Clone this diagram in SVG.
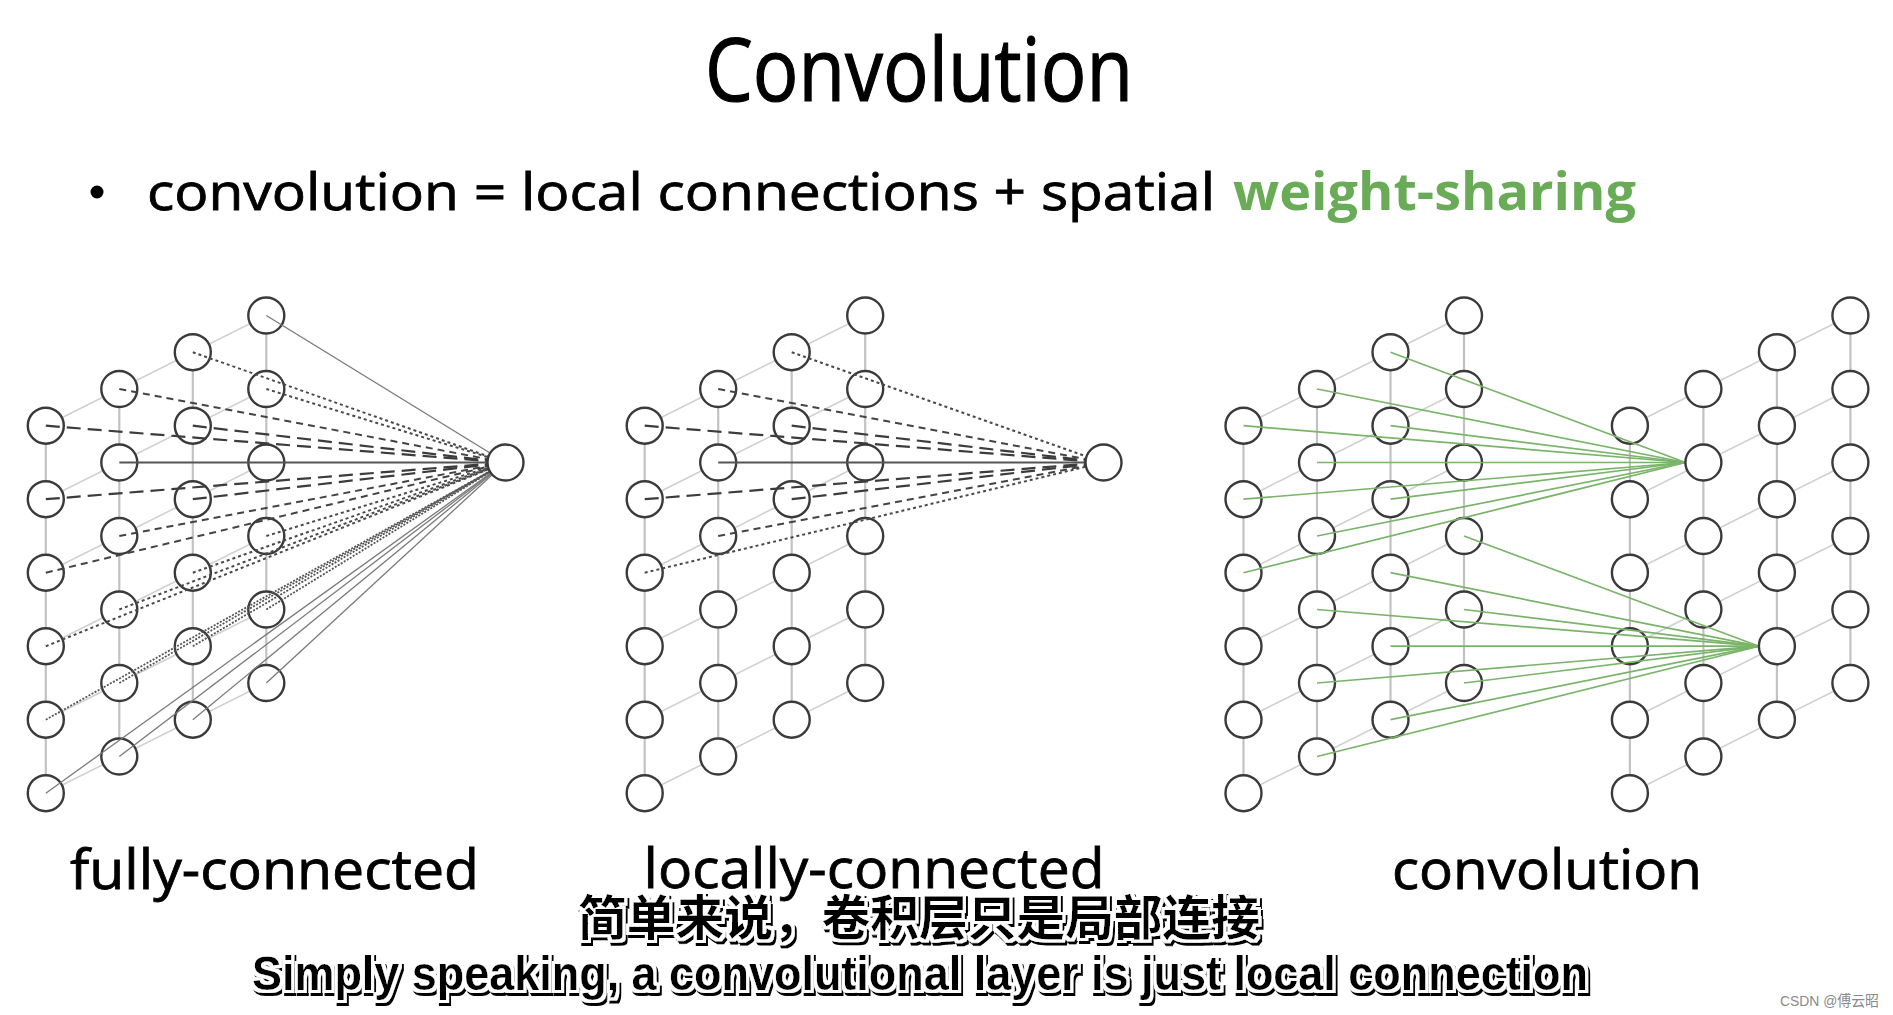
<svg xmlns="http://www.w3.org/2000/svg" xmlns:xlink="http://www.w3.org/1999/xlink" width="1893" height="1015" viewBox="0 0 1893 1015">
<style>
.nodes circle{fill:#fff;stroke:#3a3a3a;stroke-width:2.4}
.gv{stroke:#c2c2c2;stroke-width:2.2}
.gd{stroke:#d0d0d0;stroke-width:1.6}
.ld{stroke:#3c3c3c;stroke-width:2.2;stroke-dasharray:14 7;fill:none}
.sd{stroke:#444;stroke-width:2;stroke-dasharray:7 5;fill:none}
.dt{stroke:#4a4a4a;stroke-width:2;stroke-dasharray:3 3;fill:none}
.dd{stroke:#555;stroke-width:1.8;stroke-dasharray:2 1.5;fill:none}
.so{stroke:#7a7a7a;stroke-width:1.3;fill:none}
.h{stroke:#555;stroke-width:2;fill:none}
.g{stroke:#7ab46a;stroke-width:1.7;fill:none}
.t{font-family:"Open Sans",Lato,"Liberation Sans",sans-serif;fill:#000;stroke:#000;stroke-width:0.8;font-variant-ligatures:none}
.sub{filter:url(#halo);fill:#000}
</style>
<defs>
<filter id="halo" x="-5%" y="-40%" width="110%" height="180%">
<feMorphology in="SourceAlpha" operator="dilate" radius="3" result="d"/>
<feOffset in="d" dx="2" dy="3" result="sh"/>
<feFlood flood-color="#fff" result="w"/>
<feComposite in="w" in2="d" operator="in" result="hl"/>
<feMerge><feMergeNode in="sh"/><feMergeNode in="hl"/><feMergeNode in="SourceGraphic"/></feMerge>
</filter>
<g id="grid">
<line class="gv" x1="0" y1="425.7" x2="0" y2="793.2"/>
<line class="gv" x1="73.5" y1="389" x2="73.5" y2="756.5"/>
<line class="gv" x1="147" y1="352.2" x2="147" y2="719.7"/>
<line class="gv" x1="220.5" y1="315.5" x2="220.5" y2="683"/>
<line class="gd" x1="0" y1="425.7" x2="220.5" y2="315.5"/>
<line class="gd" x1="0" y1="499.2" x2="220.5" y2="389"/>
<line class="gd" x1="0" y1="572.7" x2="220.5" y2="462.5"/>
<line class="gd" x1="0" y1="646.2" x2="220.5" y2="536"/>
<line class="gd" x1="0" y1="719.7" x2="220.5" y2="609.5"/>
<line class="gd" x1="0" y1="793.2" x2="220.5" y2="683"/>
</g>
</defs>
<rect width="1893" height="1015" fill="#fff"/>

<g id="grid-lines">
<use xlink:href="#grid" x="45.8"/>
<use xlink:href="#grid" x="644.7"/>
<use xlink:href="#grid" x="1243.5"/>
<use xlink:href="#grid" x="1629.9"/>
</g>

<g class="nodes" id="fully-connected-inputs">
<g id="fc-0-0"><circle cx="45.8" cy="425.7" r="18"/></g>
<g id="fc-0-1"><circle cx="45.8" cy="499.2" r="18"/></g>
<g id="fc-0-2"><circle cx="45.8" cy="572.7" r="18"/></g>
<g id="fc-0-3"><circle cx="45.8" cy="646.2" r="18"/></g>
<g id="fc-0-4"><circle cx="45.8" cy="719.7" r="18"/></g>
<g id="fc-0-5"><circle cx="45.8" cy="793.2" r="18"/></g>
<g id="fc-1-0"><circle cx="119.3" cy="389" r="18"/></g>
<g id="fc-1-1"><circle cx="119.3" cy="462.5" r="18"/></g>
<g id="fc-1-2"><circle cx="119.3" cy="536" r="18"/></g>
<g id="fc-1-3"><circle cx="119.3" cy="609.5" r="18"/></g>
<g id="fc-1-4"><circle cx="119.3" cy="683" r="18"/></g>
<g id="fc-1-5"><circle cx="119.3" cy="756.5" r="18"/></g>
<g id="fc-2-0"><circle cx="192.8" cy="352.2" r="18"/></g>
<g id="fc-2-1"><circle cx="192.8" cy="425.7" r="18"/></g>
<g id="fc-2-2"><circle cx="192.8" cy="499.2" r="18"/></g>
<g id="fc-2-3"><circle cx="192.8" cy="572.7" r="18"/></g>
<g id="fc-2-4"><circle cx="192.8" cy="646.2" r="18"/></g>
<g id="fc-2-5"><circle cx="192.8" cy="719.7" r="18"/></g>
<g id="fc-3-0"><circle cx="266.3" cy="315.5" r="18"/></g>
<g id="fc-3-1"><circle cx="266.3" cy="389" r="18"/></g>
<g id="fc-3-2"><circle cx="266.3" cy="462.5" r="18"/></g>
<g id="fc-3-3"><circle cx="266.3" cy="536" r="18"/></g>
<g id="fc-3-4"><circle cx="266.3" cy="609.5" r="18"/></g>
<g id="fc-3-5"><circle cx="266.3" cy="683" r="18"/></g>
</g>

<g class="nodes" id="locally-connected-inputs">
<g id="lc-0-0"><circle cx="644.7" cy="425.7" r="18"/></g>
<g id="lc-0-1"><circle cx="644.7" cy="499.2" r="18"/></g>
<g id="lc-0-2"><circle cx="644.7" cy="572.7" r="18"/></g>
<g id="lc-0-3"><circle cx="644.7" cy="646.2" r="18"/></g>
<g id="lc-0-4"><circle cx="644.7" cy="719.7" r="18"/></g>
<g id="lc-0-5"><circle cx="644.7" cy="793.2" r="18"/></g>
<g id="lc-1-0"><circle cx="718.2" cy="389" r="18"/></g>
<g id="lc-1-1"><circle cx="718.2" cy="462.5" r="18"/></g>
<g id="lc-1-2"><circle cx="718.2" cy="536" r="18"/></g>
<g id="lc-1-3"><circle cx="718.2" cy="609.5" r="18"/></g>
<g id="lc-1-4"><circle cx="718.2" cy="683" r="18"/></g>
<g id="lc-1-5"><circle cx="718.2" cy="756.5" r="18"/></g>
<g id="lc-2-0"><circle cx="791.7" cy="352.2" r="18"/></g>
<g id="lc-2-1"><circle cx="791.7" cy="425.7" r="18"/></g>
<g id="lc-2-2"><circle cx="791.7" cy="499.2" r="18"/></g>
<g id="lc-2-3"><circle cx="791.7" cy="572.7" r="18"/></g>
<g id="lc-2-4"><circle cx="791.7" cy="646.2" r="18"/></g>
<g id="lc-2-5"><circle cx="791.7" cy="719.7" r="18"/></g>
<g id="lc-3-0"><circle cx="865.2" cy="315.5" r="18"/></g>
<g id="lc-3-1"><circle cx="865.2" cy="389" r="18"/></g>
<g id="lc-3-2"><circle cx="865.2" cy="462.5" r="18"/></g>
<g id="lc-3-3"><circle cx="865.2" cy="536" r="18"/></g>
<g id="lc-3-4"><circle cx="865.2" cy="609.5" r="18"/></g>
<g id="lc-3-5"><circle cx="865.2" cy="683" r="18"/></g>
</g>

<g class="nodes" id="convolution-inputs">
<g id="cv-0-0"><circle cx="1243.5" cy="425.7" r="18"/></g>
<g id="cv-0-1"><circle cx="1243.5" cy="499.2" r="18"/></g>
<g id="cv-0-2"><circle cx="1243.5" cy="572.7" r="18"/></g>
<g id="cv-0-3"><circle cx="1243.5" cy="646.2" r="18"/></g>
<g id="cv-0-4"><circle cx="1243.5" cy="719.7" r="18"/></g>
<g id="cv-0-5"><circle cx="1243.5" cy="793.2" r="18"/></g>
<g id="cv-1-0"><circle cx="1317" cy="389" r="18"/></g>
<g id="cv-1-1"><circle cx="1317" cy="462.5" r="18"/></g>
<g id="cv-1-2"><circle cx="1317" cy="536" r="18"/></g>
<g id="cv-1-3"><circle cx="1317" cy="609.5" r="18"/></g>
<g id="cv-1-4"><circle cx="1317" cy="683" r="18"/></g>
<g id="cv-1-5"><circle cx="1317" cy="756.5" r="18"/></g>
<g id="cv-2-0"><circle cx="1390.5" cy="352.2" r="18"/></g>
<g id="cv-2-1"><circle cx="1390.5" cy="425.7" r="18"/></g>
<g id="cv-2-2"><circle cx="1390.5" cy="499.2" r="18"/></g>
<g id="cv-2-3"><circle cx="1390.5" cy="572.7" r="18"/></g>
<g id="cv-2-4"><circle cx="1390.5" cy="646.2" r="18"/></g>
<g id="cv-2-5"><circle cx="1390.5" cy="719.7" r="18"/></g>
<g id="cv-3-0"><circle cx="1464" cy="315.5" r="18"/></g>
<g id="cv-3-1"><circle cx="1464" cy="389" r="18"/></g>
<g id="cv-3-2"><circle cx="1464" cy="462.5" r="18"/></g>
<g id="cv-3-3"><circle cx="1464" cy="536" r="18"/></g>
<g id="cv-3-4"><circle cx="1464" cy="609.5" r="18"/></g>
<g id="cv-3-5"><circle cx="1464" cy="683" r="18"/></g>
</g>

<g class="nodes" id="convolution-outputs">
<g id="co-0-0"><circle cx="1629.9" cy="425.7" r="18"/></g>
<g id="co-0-1"><circle cx="1629.9" cy="499.2" r="18"/></g>
<g id="co-0-2"><circle cx="1629.9" cy="572.7" r="18"/></g>
<g id="co-0-3"><circle cx="1629.9" cy="646.2" r="18"/></g>
<g id="co-0-4"><circle cx="1629.9" cy="719.7" r="18"/></g>
<g id="co-0-5"><circle cx="1629.9" cy="793.2" r="18"/></g>
<g id="co-1-0"><circle cx="1703.4" cy="389" r="18"/></g>
<g id="co-1-2"><circle cx="1703.4" cy="536" r="18"/></g>
<g id="co-1-3"><circle cx="1703.4" cy="609.5" r="18"/></g>
<g id="co-1-4"><circle cx="1703.4" cy="683" r="18"/></g>
<g id="co-1-5"><circle cx="1703.4" cy="756.5" r="18"/></g>
<g id="co-2-0"><circle cx="1776.9" cy="352.2" r="18"/></g>
<g id="co-2-1"><circle cx="1776.9" cy="425.7" r="18"/></g>
<g id="co-2-2"><circle cx="1776.9" cy="499.2" r="18"/></g>
<g id="co-2-3"><circle cx="1776.9" cy="572.7" r="18"/></g>
<g id="co-2-5"><circle cx="1776.9" cy="719.7" r="18"/></g>
<g id="co-3-0"><circle cx="1850.4" cy="315.5" r="18"/></g>
<g id="co-3-1"><circle cx="1850.4" cy="389" r="18"/></g>
<g id="co-3-2"><circle cx="1850.4" cy="462.5" r="18"/></g>
<g id="co-3-3"><circle cx="1850.4" cy="536" r="18"/></g>
<g id="co-3-4"><circle cx="1850.4" cy="609.5" r="18"/></g>
<g id="co-3-5"><circle cx="1850.4" cy="683" r="18"/></g>
</g>

<g id="connectors">
<line class="ld" x1="45.8" y1="425.7" x2="505.5" y2="462.5"/>
<line class="sd" x1="119.3" y1="389" x2="505.5" y2="462.5"/>
<line class="dt" x1="192.8" y1="352.2" x2="505.5" y2="462.5"/>
<line class="so" x1="266.3" y1="315.5" x2="505.5" y2="462.5"/>
<line class="ld" x1="45.8" y1="499.2" x2="505.5" y2="462.5"/>
<line class="h" x1="119.3" y1="462.5" x2="505.5" y2="462.5"/>
<line class="ld" x1="192.8" y1="425.7" x2="505.5" y2="462.5"/>
<line class="dt" x1="266.3" y1="389" x2="505.5" y2="462.5"/>
<line class="sd" x1="45.8" y1="572.7" x2="505.5" y2="462.5"/>
<line class="sd" x1="119.3" y1="536" x2="505.5" y2="462.5"/>
<line class="ld" x1="192.8" y1="499.2" x2="505.5" y2="462.5"/>
<line class="dt" x1="45.8" y1="646.2" x2="505.5" y2="462.5"/>
<line class="dt" x1="119.3" y1="609.5" x2="505.5" y2="462.5"/>
<line class="dt" x1="192.8" y1="572.7" x2="505.5" y2="462.5"/>
<line class="dt" x1="266.3" y1="536" x2="505.5" y2="462.5"/>
<line class="dd" x1="45.8" y1="719.7" x2="505.5" y2="462.5"/>
<line class="dd" x1="119.3" y1="683" x2="505.5" y2="462.5"/>
<line class="dd" x1="192.8" y1="646.2" x2="505.5" y2="462.5"/>
<line class="dd" x1="266.3" y1="609.5" x2="505.5" y2="462.5"/>
<line class="so" x1="45.8" y1="793.2" x2="505.5" y2="462.5"/>
<line class="so" x1="119.3" y1="756.5" x2="505.5" y2="462.5"/>
<line class="so" x1="192.8" y1="719.7" x2="505.5" y2="462.5"/>
<line class="so" x1="266.3" y1="683" x2="505.5" y2="462.5"/>
<line class="ld" x1="644.7" y1="425.7" x2="1103.5" y2="462.5"/>
<line class="sd" x1="718.2" y1="389" x2="1103.5" y2="462.5"/>
<line class="dt" x1="791.7" y1="352.2" x2="1103.5" y2="462.5"/>
<line class="ld" x1="644.7" y1="499.2" x2="1103.5" y2="462.5"/>
<line class="h" x1="718.2" y1="462.5" x2="1103.5" y2="462.5"/>
<line class="ld" x1="791.7" y1="425.7" x2="1103.5" y2="462.5"/>
<line class="dt" x1="644.7" y1="572.7" x2="1103.5" y2="462.5"/>
<line class="sd" x1="718.2" y1="536" x2="1103.5" y2="462.5"/>
<line class="ld" x1="791.7" y1="499.2" x2="1103.5" y2="462.5"/>
<line class="g" x1="1243.5" y1="425.7" x2="1685.4" y2="462.5"/>
<line class="g" x1="1317" y1="389" x2="1685.4" y2="462.5"/>
<line class="g" x1="1390.5" y1="352.2" x2="1685.4" y2="462.5"/>
<line class="g" x1="1243.5" y1="499.2" x2="1685.4" y2="462.5"/>
<line class="g" x1="1317" y1="462.5" x2="1685.4" y2="462.5"/>
<line class="g" x1="1390.5" y1="425.7" x2="1685.4" y2="462.5"/>
<line class="g" x1="1243.5" y1="572.7" x2="1685.4" y2="462.5"/>
<line class="g" x1="1317" y1="536" x2="1685.4" y2="462.5"/>
<line class="g" x1="1390.5" y1="499.2" x2="1685.4" y2="462.5"/>
<line class="g" x1="1317" y1="609.5" x2="1758.9" y2="646.2"/>
<line class="g" x1="1390.5" y1="572.7" x2="1758.9" y2="646.2"/>
<line class="g" x1="1464" y1="536" x2="1758.9" y2="646.2"/>
<line class="g" x1="1317" y1="683" x2="1758.9" y2="646.2"/>
<line class="g" x1="1390.5" y1="646.2" x2="1758.9" y2="646.2"/>
<line class="g" x1="1464" y1="609.5" x2="1758.9" y2="646.2"/>
<line class="g" x1="1317" y1="756.5" x2="1758.9" y2="646.2"/>
<line class="g" x1="1390.5" y1="719.7" x2="1758.9" y2="646.2"/>
<line class="g" x1="1464" y1="683" x2="1758.9" y2="646.2"/>
</g>

<g class="nodes" id="target-nodes">
<g id="fc-out"><circle cx="505.5" cy="462.5" r="18"/></g>
<g id="lc-out"><circle cx="1103.5" cy="462.5" r="18"/></g>
<g id="co-1-1"><circle cx="1703.4" cy="462.5" r="18"/></g>
<g id="co-2-4"><circle cx="1776.9" cy="646.2" r="18"/></g>
</g>

<g id="texts">
<text class="t" x="705" y="101" font-size="88" style="stroke-width:1.2" textLength="428" lengthAdjust="spacingAndGlyphs">Convolution</text>
<circle cx="97" cy="192" r="6.5" fill="#000"/>
<text class="t" x="147" y="210" font-size="52" textLength="1068" lengthAdjust="spacingAndGlyphs">convolution = local connections + spatial</text>
<text class="t" x="1233" y="210" font-size="52" font-weight="bold" style="fill:#6aab58;stroke:none" textLength="403" lengthAdjust="spacingAndGlyphs">weight-sharing</text>
<text class="t" x="70" y="889" font-size="55" textLength="409" lengthAdjust="spacingAndGlyphs">fully-connected</text>
<text class="t" x="643.5" y="888" font-size="55" textLength="461" lengthAdjust="spacingAndGlyphs">locally-connected</text>
<text class="t" x="1392" y="889" font-size="55" textLength="310" lengthAdjust="spacingAndGlyphs">convolution</text>
<text class="sub" x="578" y="935" font-size="48" font-weight="bold" font-family="'Noto Sans CJK SC','Noto Sans CJK JP',sans-serif" textLength="682" lengthAdjust="spacingAndGlyphs">简单来说，卷积层只是局部连接</text>
<text class="sub" x="252" y="990" font-size="48" font-weight="bold" font-family="'Liberation Sans',Arial,sans-serif" textLength="1336" lengthAdjust="spacingAndGlyphs">Simply speaking, a convolutional layer is just local connection</text>
<text x="1780" y="1006" font-size="15" fill="#8a8a8a" font-family="'Liberation Sans','Noto Sans CJK SC',sans-serif" textLength="99" lengthAdjust="spacingAndGlyphs">CSDN @傅云昭</text>
</g>
</svg>
